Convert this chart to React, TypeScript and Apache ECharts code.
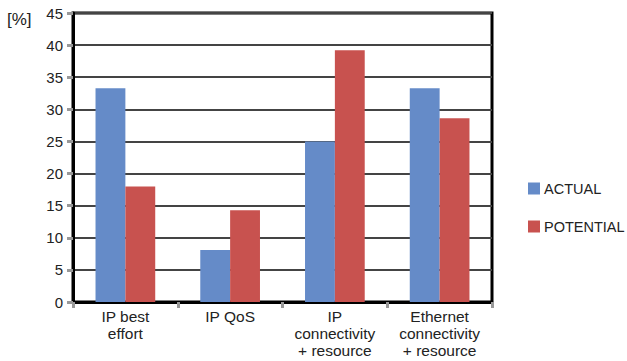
import React, { useEffect, useRef } from "react";
import * as echarts from "echarts";

const categories = [
  "IP best\neffort",
  "IP QoS",
  "IP\nconnectivity\n+ resource",
  "Ethernet\nconnectivity\n+ resource",
];
const actual = [33.3, 8.1, 25.0, 33.3];
const potential = [18.0, 14.3, 39.2, 28.6];
const yTicks = { min: 0, max: 45, interval: 5 };

const FONT = "Liberation Sans, Arial, sans-serif";

export default function App() {
  const ref = useRef<HTMLDivElement>(null);

  useEffect(() => {
    document.body.style.margin = "0";
    const chart = echarts.init(ref.current!, null, { renderer: "svg" });
    chart.setOption({
      animation: false,
      backgroundColor: "#ffffff",
      textStyle: { fontFamily: FONT },
      grid: {
        left: 73,
        top: 13,
        width: 419,
        height: 289,
        show: true,
        borderColor: "#000",
        borderWidth: 3,
        backgroundColor: "transparent",
      },
      legend: {
        orient: "vertical",
        left: 523,
        top: 176,
        itemWidth: 12,
        itemHeight: 12,
        itemGap: 23,
        itemStyle: { borderWidth: 0 },
        icon: "rect",
        textStyle: { fontSize: 14.5, color: "#222", fontFamily: FONT, padding: [0, 0, 0, -1] },
        data: ["ACTUAL", "POTENTIAL"],
      },
      graphic: [
        {
          type: "text",
          left: 7,
          top: 11,
          style: { text: "[%]", font: `17px ${FONT}`, fill: "#222" },
        },
      ],
      xAxis: {
        type: "category",
        data: categories,
        axisLine: { lineStyle: { color: "#000", width: 3 } },
        axisTick: { show: true, length: 6, lineStyle: { color: "#999", width: 3 } },
        axisLabel: {
          fontSize: 15.5,
          color: "#222",
          lineHeight: 17,
          margin: 6,
          interval: 0,
          fontFamily: FONT,
        },
      },
      yAxis: {
        type: "value",
        min: yTicks.min,
        max: yTicks.max,
        interval: yTicks.interval,
        axisLine: { show: true, lineStyle: { color: "#000", width: 3 } },
        axisTick: { show: true, length: 6, lineStyle: { color: "#999", width: 3 } },
        axisLabel: { fontSize: 15, color: "#222", margin: 10, fontFamily: FONT },
        splitLine: { show: true, lineStyle: { color: "#444", width: 2 } },
      },
      series: [
        {
          name: "ACTUAL",
          type: "bar",
          data: actual,
          barGap: "0%",
          barCategoryGap: "43%",
          itemStyle: { color: "#658bc8" },
        },
        {
          name: "POTENTIAL",
          type: "bar",
          data: potential,
          itemStyle: { color: "#c8524f" },
        },
      ],
    });
    return () => chart.dispose();
  }, []);

  return <div ref={ref} style={{ width: 627, height: 361 }} />;
}
